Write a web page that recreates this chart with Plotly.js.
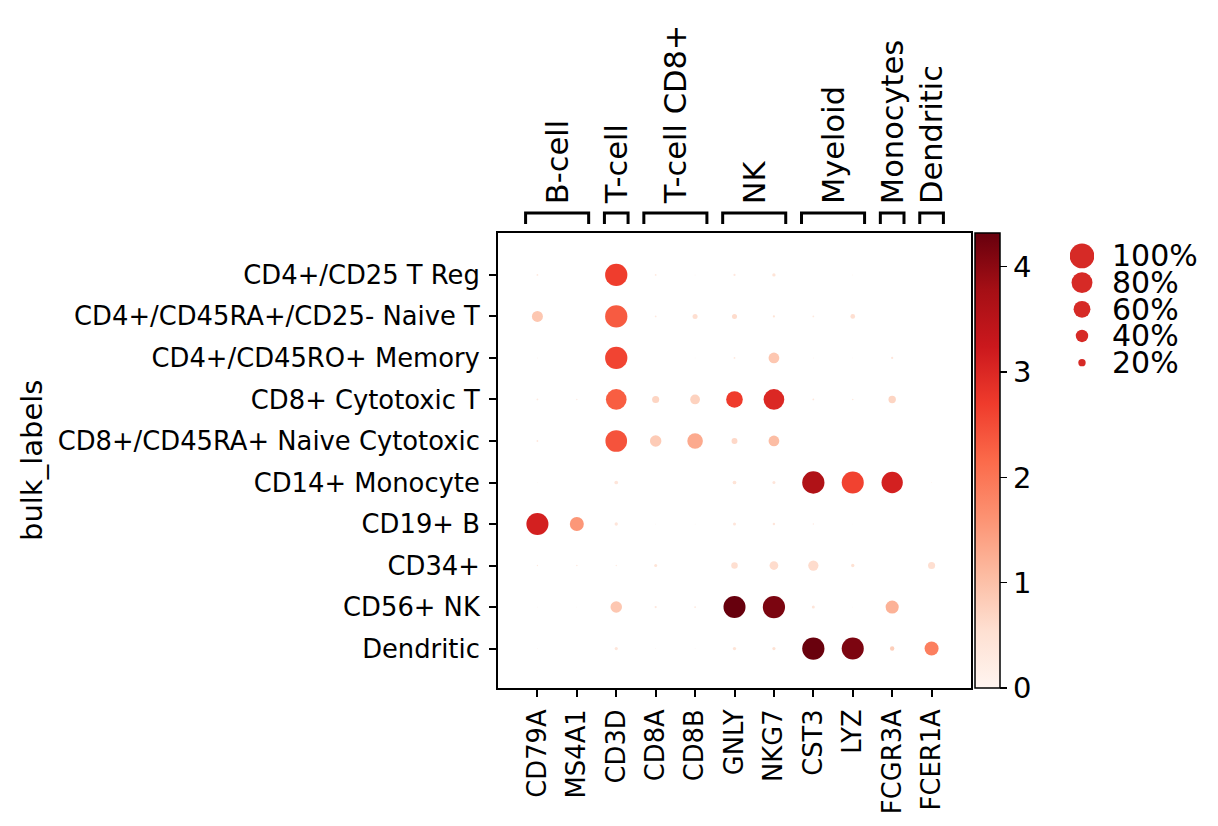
<!DOCTYPE html>
<html><head><meta charset="utf-8">
<script src="https://cdn.plot.ly/plotly-3.0.1.min.js"></script>
<style>html,body{margin:0;padding:0;background:#fff}</style>
</head><body><div id="chart" style="width:1218px;height:826px"></div>
<script>
// ---- data ----
const genes = ['CD79A','MS4A1','CD3D','CD8A','CD8B','GNLY','NKG7','CST3','LYZ','FCGR3A','FCER1A'];
const cellTypes = ['CD4+/CD25 T Reg','CD4+/CD45RA+/CD25- Naive T','CD4+/CD45RO+ Memory','CD8+ Cytotoxic T',
  'CD8+/CD45RA+ Naive Cytotoxic','CD14+ Monocyte','CD19+ B','CD34+','CD56+ NK','Dendritic'];
// fraction of cells expressing (rows = cellTypes, cols = genes)
const fractionExpressing = [
  [0.03, 0,     0.87, 0.03, 0.012, 0.04, 0.07, 0,     0.012, 0,    0],
  [0.34, 0,     0.87, 0.03, 0.12,  0.12, 0.04, 0.03,  0.11,  0,    0],
  [0.012,0,     0.87, 0,    0.01,  0.03, 0.33, 0.012, 0.01,  0.04, 0],
  [0.03, 0.02,  0.79, 0.19, 0.29,  0.59, 0.79, 0.03,  0.025, 0.20, 0],
  [0.03, 0,     0.84, 0.36, 0.54,  0.15, 0.33, 0,     0,     0,    0],
  [0.008,0,     0.08, 0,    0,     0.08, 0.06, 0.87,  0.86,  0.82, 0.01],
  [0.86, 0.47,  0.07, 0.01, 0.01,  0.06, 0.045,0.02,  0.005, 0,    0],
  [0.02, 0.025, 0.02, 0.06, 0,     0.17, 0.25, 0.31,  0.07,  0,    0.19],
  [0.01, 0.008, 0.36, 0.04, 0.03,  0.86, 0.87, 0.06,  0.008, 0.43, 0],
  [0.01, 0,     0.065,0.01, 0.01,  0.07, 0.065,0.87,  0.86,  0.10, 0.47]
];
// mean expression in group
const meanExpression = [
  [0.3,  0,    2.68, 0.3,  0.2,  0.35, 0.45, 0,    0.2,  0,    0],
  [0.9,  0,    2.33, 0.3,  0.55, 0.6,  0.45, 0.3,  0.55, 0,    0],
  [0.2,  0,    2.6,  0,    0.2,  0.35, 0.9,  0.25, 0.2,  0.4,  0],
  [0.3,  0.3,  2.3,  0.7,  0.75, 2.7,  3.0,  0.35, 0.3,  0.7,  0],
  [0.35, 0,    2.42, 0.85, 1.3,  0.65, 1.05, 0,    0,    0,    0],
  [0.2,  0,    0.4,  0,    0,    0.45, 0.4,  3.62, 2.62, 3.12, 0.2],
  [3.12, 1.55, 0.4,  0.2,  0.2,  0.4,  0.4,  0.3,  0.2,  0,    0],
  [0.3,  0.3,  0.3,  0.45, 0,    0.55, 0.6,  0.6,  0.5,  0,    0.55],
  [0.2,  0.2,  0.9,  0.35, 0.35, 4.32, 4.15, 0.4,  0.2,  1.2,  0],
  [0.2,  0,    0.4,  0.2,  0.2,  0.45, 0.5,  4.3,  4.14, 0.8,  1.88]
];
const groupNames = ['B-cell','T-cell','T-cell CD8+','NK','Myeloid','Monocytes','Dendritic'];
const groupStart = ['CD79A','CD3D','CD8A','GNLY','CST3','FCGR3A','FCER1A'];
const groupEnd   = ['MS4A1','CD3D','CD8B','NKG7','LYZ','FCGR3A','FCER1A'];
const legendLabels = ['100%','80%','60%','40%','20%'];
const legendFractions = [1.0, 0.8, 0.6, 0.4, 0.2];
const colorbarTicks = [0, 1, 2, 3, 4];
const colorMax = 4.32;

// ---- styling / helpers ----
const W = 1218, H = 826;
const fx = p => p / W, fy = p => 1 - p / H;
const FONT = 'DejaVu Sans';
const maxDot = 24.7;
const dotSize = f => maxDot * Math.pow(f, 0.75);
const reds = [[0,'#fff5f0'],[0.125,'#fee0d2'],[0.25,'#fcbba1'],[0.375,'#fc9272'],[0.5,'#fb6a4a'],
  [0.625,'#ef3b2c'],[0.75,'#cb181d'],[0.875,'#a50f15'],[1,'#67000d']];

const xs = [], ys = [], sz = [], cl = [];
cellTypes.forEach((ct, r) => genes.forEach((g, c) => {
  xs.push(g); ys.push(ct);
  sz.push(dotSize(fractionExpressing[r][c]));
  cl.push(meanExpression[r][c]);
}));

const dots = {
  type: 'scatter', mode: 'markers', x: xs, y: ys, xaxis: 'x', yaxis: 'y',
  marker: { size: sz, color: cl, colorscale: reds, cmin: 0, cmax: colorMax, opacity: 1,
    line: { width: 0 },
    showscale: true,
    colorbar: { x: fx(975), xanchor: 'left', xpad: 0, y: fy(688), yanchor: 'bottom', ypad: 0,
      len: 455, lenmode: 'pixels', thickness: 25, thicknessmode: 'pixels',
      outlinewidth: 1.5, outlinecolor: '#000', ticks: 'outside', ticklen: 7, tickwidth: 1.5, tickcolor: '#000',
      tickvals: colorbarTicks, tickfont: { family: FONT, size: 29, color: '#000' } } },
  hoverinfo: 'x+y', showlegend: false
};

const legendDots = {
  type: 'scatter', mode: 'markers', x: legendLabels.map(() => 0), y: legendLabels,
  xaxis: 'x2', yaxis: 'y2',
  marker: { size: legendFractions.map(dotSize), color: '#d62a26', opacity: 1, line: { width: 0 } },
  hoverinfo: 'skip', showlegend: false
};

const shapes = [], annotations = [];
groupNames.forEach((name, i) => {
  const x0 = genes.indexOf(groupStart[i]) - 0.3, x1 = genes.indexOf(groupEnd[i]) + 0.3;
  const yb = fy(224), yt = fy(213);
  shapes.push({ type: 'path', xref: 'x', yref: 'paper',
    path: `M ${x0},${yb} L ${x0},${yt} L ${x1},${yt} L ${x1},${yb}`,
    line: { color: '#000', width: 3 } });
  annotations.push({ xref: 'x', yref: 'paper', x: (x0 + x1) / 2, y: fy(205), xanchor: 'center', yanchor: 'bottom',
    text: name, textangle: -90, showarrow: false, borderpad: 0, font: { family: FONT, size: 30.5, color: '#000' } });
});
legendLabels.forEach((lab, i) => {
  annotations.push({ xref: 'paper', yref: 'y2', x: fx(1111), y: i, xanchor: 'left', yanchor: 'middle',
    text: lab, showarrow: false, borderpad: 0, font: { family: FONT, size: 30, color: '#000' } });
});
annotations.push({ xref: 'paper', yref: 'paper', x: fx(32), y: fy(461), xanchor: 'center', yanchor: 'middle',
  text: 'bulk_labels', textangle: -90, showarrow: false, font: { family: FONT, size: 29, color: '#000' } });

const axisCommon = { showline: true, mirror: true, linecolor: '#000', linewidth: 2, ticks: 'outside', ticklen: 7,
  tickwidth: 2, tickcolor: '#000', showgrid: false, zeroline: false, fixedrange: true, automargin: false,
  tickfont: { family: FONT, size: 25.8, color: '#000' } };

const layout = {
  width: W, height: H, margin: { l: 0, r: 0, t: 0, b: 0 },
  paper_bgcolor: '#fff', plot_bgcolor: '#fff', showlegend: false,
  font: { family: FONT, color: '#000' },
  xaxis: Object.assign({}, axisCommon, { domain: [fx(498), fx(971)], anchor: 'y', type: 'category',
    categoryorder: 'array', categoryarray: genes, range: [-1, 11], tickangle: -90, ticklabelstandoff: 2 }),
  yaxis: Object.assign({}, axisCommon, { domain: [fy(688), fy(233)], anchor: 'x', type: 'category',
    categoryorder: 'array', categoryarray: cellTypes, range: [9.95, -1.01], ticklabelstandoff: 4 }),
  xaxis2: { domain: [fx(1070), fx(1094)], anchor: 'y2', range: [-0.5, 0.5], visible: false, fixedrange: true },
  yaxis2: { domain: [fy(376), fy(242.6)], anchor: 'x2', type: 'category', categoryorder: 'array',
    categoryarray: legendLabels, range: [4.5, -0.5], visible: false, fixedrange: true },
  shapes: shapes, annotations: annotations
};

Plotly.newPlot('chart', [dots, legendDots], layout, { displayModeBar: false, staticPlot: true });
</script></body></html>
